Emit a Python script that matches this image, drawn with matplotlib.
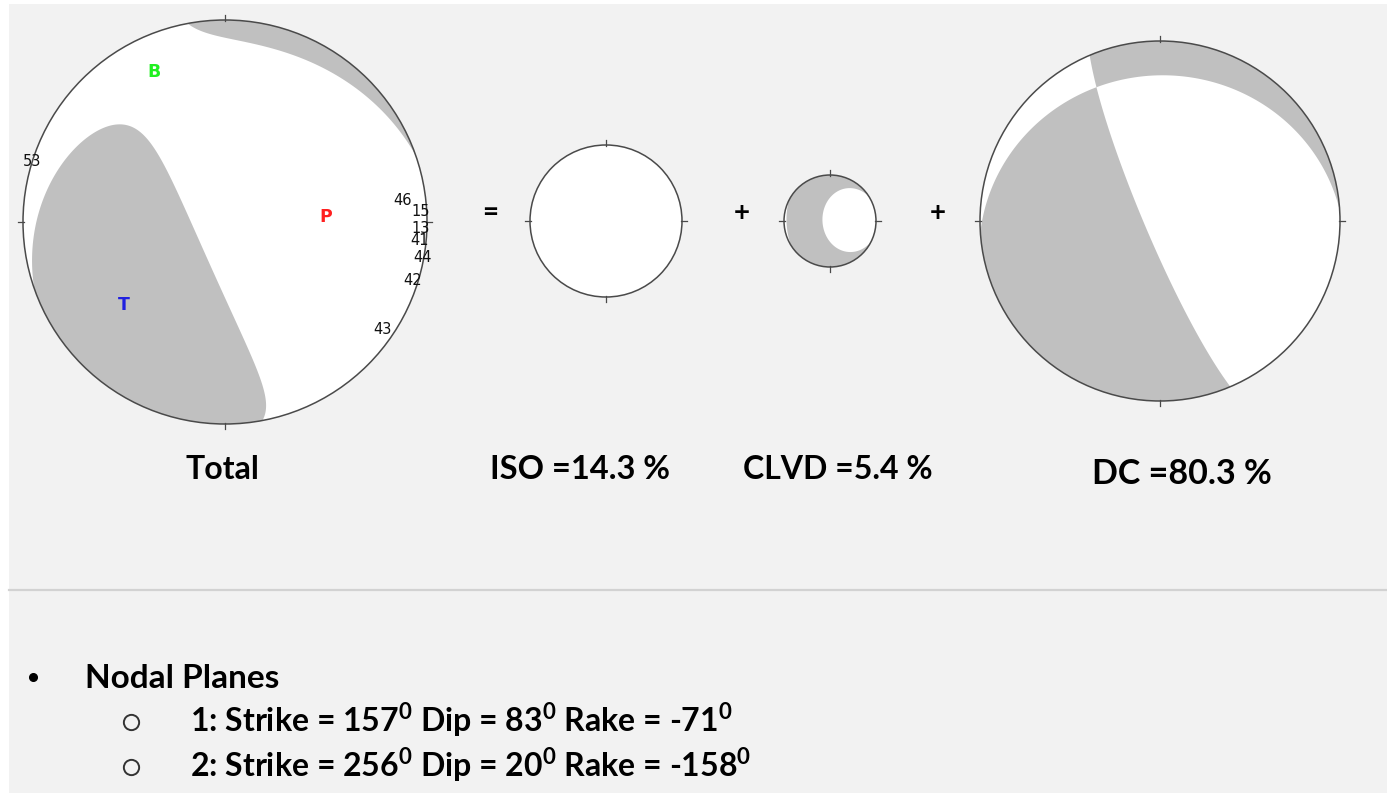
import numpy as np
import matplotlib.pyplot as plt
from matplotlib.patches import Circle, Rectangle

# ---- Source parameters ----
planes = [(157, 83, -71), (256, 20, -158)]   # strike, dip, rake
iso_pct = -14.3     # implosive part
clvd_pct = 5.4
dc_pct = 80.3

# station polarity labels on the total solution
sta_names = ["53", "46", "15", "13", "41", "44", "42", "43"]
sta_azimuth = [287.3, 83.0, 86.8, 91.8, 95.3, 100.1, 107.4, 124.4]
sta_takeoff = [90.0, 77.8, 86.8, 86.7, 86.4, 89.2, 87.2, 83.8]

# ---- Layout (pixels) ----
W, H = 1387, 794
balls = {
    "total": (225, 222, 202),
    "iso": (606, 221, 76),
    "clvd": (830, 221, 46),
    "dc": (1160, 221, 180),
}
BG = "#f2f2f2"
SHADE = "#c0c0c0"
EDGE = "#4a4a4a"
FONT = ["Lato", "DejaVu Sans"]

plt.rcParams["mathtext.fontset"] = "custom"
plt.rcParams["mathtext.rm"] = "Lato"
plt.rcParams["mathtext.bf"] = "Lato:bold"


def sdr_axes(strike, dip, rake):
    phi, delta, lam = np.radians([strike, dip, rake])
    n = np.array([-np.sin(delta) * np.sin(phi),
                  np.sin(delta) * np.cos(phi),
                  -np.cos(delta)])
    u = np.array([np.cos(lam) * np.cos(phi) + np.cos(delta) * np.sin(lam) * np.sin(phi),
                  np.cos(lam) * np.sin(phi) - np.cos(delta) * np.sin(lam) * np.cos(phi),
                  -np.sin(lam) * np.sin(delta)])
    t = (n + u) / np.sqrt(2)
    p = (n - u) / np.sqrt(2)
    b = np.cross(n, u)
    return t, b, p


def tensor(eigvals, axes):
    return sum(lam * np.outer(e, e) for lam, e in zip(eigvals, axes))


def project(az, takeoff, cx, cy, R):
    # lower hemisphere, equal area
    r = np.sqrt(2) * np.sin(np.radians(takeoff) / 2)
    a = np.radians(az)
    return cx + R * r * np.sin(a), cy - R * r * np.cos(a)


def axis_angles(v):
    if v[2] < 0:
        v = -v
    az = np.degrees(np.arctan2(v[1], v[0])) % 360
    takeoff = np.degrees(np.arccos(np.clip(v[2], -1, 1)))
    return az, takeoff


def beachball(ax, M, cx, cy, R, n=500):
    ax.add_patch(Circle((cx, cy), R, facecolor="white", edgecolor="none", zorder=1))
    g = np.linspace(-1.02, 1.02, n)
    E, N = np.meshgrid(g, g)
    rho = np.sqrt(E**2 + N**2)
    colat = 2 * np.arcsin(np.clip(rho / np.sqrt(2), 0, 1))
    az = np.arctan2(E, N)
    vec = np.stack([np.cos(az) * np.sin(colat),
                    np.sin(az) * np.sin(colat),
                    np.cos(colat)], axis=-1)
    amp = np.einsum("...i,ij,...j->...", vec, M, vec)
    if amp.max() > 0:
        clip = Circle((cx, cy), R, transform=ax.transData)
        cs = ax.contourf(cx + R * E, cy - R * N, amp, levels=[0, amp.max() + 1],
                         colors=[SHADE], zorder=2, antialiased=True)
        cs.set_clip_path(clip)
    ax.add_patch(Circle((cx, cy), R, facecolor="none", edgecolor=EDGE,
                        linewidth=1.1, zorder=3))
    for ang in range(0, 360, 90):
        a = np.radians(ang)
        ax.plot([cx + (R - 1) * np.sin(a), cx + (R + 5) * np.sin(a)],
                [cy - (R - 1) * np.cos(a), cy - (R + 5) * np.cos(a)],
                color=EDGE, linewidth=0.9, zorder=3)


t_ax, b_ax, p_ax = sdr_axes(*planes[0])
axes3 = [t_ax, b_ax, p_ax]
m_iso = iso_pct / 100 * np.array([1.0, 1.0, 1.0])
m_clvd = clvd_pct / 100 * np.array([0.5, 0.5, -1.0])
m_dc = dc_pct / 100 * np.array([1.0, 0.0, -1.0])

fig = plt.figure(figsize=(W / 100, H / 100), dpi=100)
fig.patch.set_facecolor("white")
ax = fig.add_axes([0, 0, 1, 1])
ax.set_xlim(0, W)
ax.set_ylim(H, 0)
ax.set_aspect("equal")
ax.axis("off")
ax.add_patch(Rectangle((9, 4), W - 9, H - 5, facecolor=BG, edgecolor="none", zorder=0))

beachball(ax, tensor(m_iso + m_clvd + m_dc, axes3), *balls["total"])
beachball(ax, tensor(m_iso, axes3), *balls["iso"])
beachball(ax, tensor(m_clvd, axes3), *balls["clvd"])
beachball(ax, tensor(m_dc, axes3), *balls["dc"])

# P, T, B axes of the total solution
for name, vec, col in [("P", p_ax, "#ff2020"), ("T", t_ax, "#2020e0"), ("B", b_ax, "#20f020")]:
    az, tk = axis_angles(vec)
    x, y = project(az, tk, *balls["total"])
    ax.text(x, y, name, color=col, fontsize=12.5, fontweight="bold",
            family="DejaVu Sans", ha="center", va="center", zorder=5)

for name, az, tk in zip(sta_names, sta_azimuth, sta_takeoff):
    x, y = project(az, tk, *balls["total"])
    ax.text(x, y, name, color="#111111", fontsize=10.5, family="DejaVu Sans",
            ha="center", va="center", zorder=5)

# operators between the balls
lab = dict(family=FONT, fontweight="bold", color="black", zorder=5)
ax.text(490, 213, "=", fontsize=20, ha="center", va="center", **lab)
ax.text(742, 213, "+", fontsize=20, ha="center", va="center", **lab)
ax.text(938, 213, "+", fontsize=20, ha="center", va="center", **lab)

# component captions
ax.text(222, 479, "Total", fontsize=23, ha="center", va="baseline", **lab)
ax.text(490, 479, f"ISO ={abs(iso_pct):.1f} %", fontsize=23.5, ha="left", va="baseline", **lab)
ax.text(743, 479, f"CLVD ={clvd_pct:.1f} %", fontsize=23, ha="left", va="baseline", **lab)
ax.text(1092, 484, f"DC ={dc_pct:.1f} %", fontsize=24.5, ha="left", va="baseline", **lab)

ax.plot([9, W], [589.5, 589.5], color="#d2d2d2", linewidth=1.6, zorder=1)

# nodal plane list
ax.plot([33], [677], marker="o", markersize=5.5, color="black", linestyle="none")
ax.text(85, 688, "Nodal Planes", fontsize=24, ha="left", va="baseline", **lab)
for i, (s, d, r) in enumerate(planes):
    yb = 732 + 45 * i
    ax.plot([131], [yb - 10], marker="o", markersize=11, markerfacecolor="none",
            markeredgecolor="#333333", markeredgewidth=1.4, linestyle="none")
    txt = (f"{i + 1}: Strike = {s}$^\\mathbf{{0}}$ Dip = {d}$^\\mathbf{{0}}$ "
           f"Rake = {r}$^\\mathbf{{0}}$")
    ax.text(190, yb, txt, fontsize=23, ha="left", va="baseline", **lab)

fig.savefig("out.png", dpi=100, facecolor=fig.get_facecolor())
